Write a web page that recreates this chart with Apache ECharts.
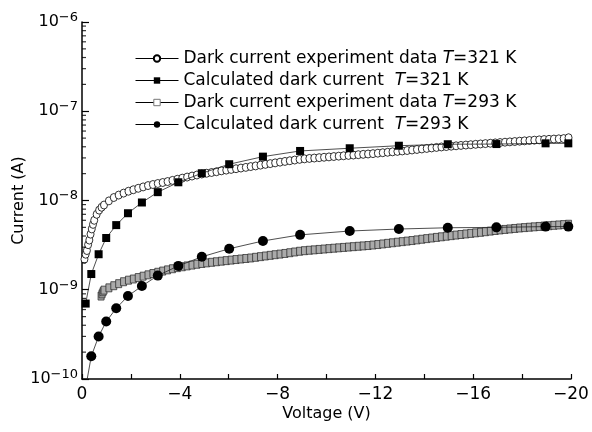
<!DOCTYPE html>
<html>
<head>
<meta charset="utf-8">
<script src="https://cdn.jsdelivr.net/npm/echarts@6/dist/echarts.min.js"></script>
<style>
  html, body { margin: 0; padding: 0; background: #fff; }
  #chart { width: 592px; height: 432px; }
</style>
</head>
<body>
<div id="chart"></div>
<script>
// voltages in V, currents in nA
const vSweep = [
  -1.1, -1.3, -1.5, -1.7, -1.9, -2.1, -2.3, -2.5, -2.7, -2.9,
  -3.1, -3.3, -3.5, -3.7, -3.9, -4.1, -4.3, -4.5, -4.7, -4.9,
  -5.1, -5.3, -5.5, -5.7, -5.9, -6.1, -6.3, -6.5, -6.7, -6.9,
  -7.1, -7.3, -7.5, -7.7, -7.9, -8.1, -8.3, -8.5, -8.7, -8.9,
  -9.1, -9.3, -9.5, -9.7, -9.9, -10.1, -10.3, -10.5, -10.7, -10.9,
  -11.1, -11.3, -11.5, -11.7, -11.9, -12.1, -12.3, -12.5, -12.7, -12.9,
  -13.1, -13.3, -13.5, -13.7, -13.9, -14.1, -14.3, -14.5, -14.7, -14.9,
  -15.1, -15.3, -15.5, -15.7, -15.9, -16.1, -16.3, -16.5, -16.7, -16.9,
  -17.1, -17.3, -17.5, -17.7, -17.9, -18.1, -18.3, -18.5, -18.7, -18.9,
  -19.1, -19.3, -19.5, -19.7, -19.9
];
const vStart321 = [-0.1, -0.15, -0.2, -0.25, -0.3, -0.35, -0.4, -0.45, -0.5, -0.6, -0.7, -0.8, -0.9];
const vStart293 = [-0.78, -0.82, -0.86, -0.9];

const exp321 = [
  2.2, 2.5, 2.75, 3.2, 3.6, 4.2, 4.8, 5.4, 6.0, 7.0, 7.8, 8.4, 8.9,
  9.9, 10.8, 11.5, 12.1, 12.7, 13.2, 13.7, 14.2, 14.7, 15.1,
  15.5, 15.9, 16.3, 16.8, 17.3, 17.8, 18.3, 18.8, 19.3, 19.8,
  20.2, 20.6, 21.0, 21.5, 21.9, 22.3, 22.7, 23.1, 23.5, 24.0,
  24.4, 24.9, 25.4, 25.9, 26.4, 26.9, 27.4, 27.9, 28.4, 28.9,
  29.3, 29.6, 29.9, 30.2, 30.5, 30.8, 31.1, 31.4, 31.7, 32.0,
  32.3, 32.6, 32.9, 33.2, 33.5, 33.9, 34.3, 34.7, 35.1, 35.5,
  35.9, 36.3, 36.8, 37.3, 37.8, 38.3, 38.8, 39.3, 39.8, 40.2,
  40.6, 41.0, 41.4, 41.8, 42.2, 42.6, 43.0, 43.4, 43.8, 44.2,
  44.6, 45.0, 45.4, 45.8, 46.2, 46.6, 47.0, 47.4, 47.8, 48.2,
  48.5, 48.8, 49.1, 49.4, 50.5
];
const exp293 = [
  0.85, 0.9, 0.95, 0.99,
  1.05, 1.11, 1.17, 1.23, 1.28, 1.32, 1.37, 1.42, 1.47, 1.52,
  1.57, 1.62, 1.67, 1.72, 1.77, 1.81, 1.85, 1.89, 1.93, 1.97,
  2.00, 2.03, 2.06, 2.09, 2.12, 2.15, 2.18, 2.21, 2.24, 2.27,
  2.31, 2.35, 2.39, 2.43, 2.47, 2.51, 2.55, 2.60, 2.65, 2.70,
  2.74, 2.77, 2.80, 2.83, 2.86, 2.89, 2.92, 2.95, 2.98, 3.01,
  3.04, 3.07, 3.10, 3.13, 3.17, 3.21, 3.26, 3.31, 3.36, 3.41,
  3.46, 3.51, 3.56, 3.62, 3.68, 3.74, 3.80, 3.86, 3.92, 3.98,
  4.04, 4.10, 4.16, 4.22, 4.28, 4.34, 4.40, 4.47, 4.54, 4.61,
  4.68, 4.74, 4.80, 4.86, 4.92, 4.97, 5.02, 5.07, 5.12, 5.17,
  5.22, 5.27, 5.32, 5.37, 5.42
];

const calcVolt = [-0.15, -0.38, -0.68, -0.99, -1.4, -1.88, -2.45, -3.1, -3.94, -4.9,
  -6.02, -7.4, -8.92, -10.95, -12.96, -14.96, -16.95, -18.96, -19.89];
const calc321 = [0.70, 1.50, 2.5, 3.8, 5.3, 7.2, 9.5, 12.4, 16.0, 20.2,
  25.5, 31.0, 35.9, 38.5, 41.1, 42.7, 42.9, 43.7, 43.7];
const calc293 = [0.08, 0.18, 0.30, 0.44, 0.62, 0.85, 1.10, 1.44, 1.85, 2.34,
  2.88, 3.52, 4.12, 4.55, 4.79, 4.95, 5.0, 5.1, 5.1];

const seriesNames = [
  'Dark current experiment data T=321 K',
  'Calculated dark current  T=321 K',
  'Dark current experiment data T=293 K',
  'Calculated dark current  T=293 K'
];
const xTicks = [0, -4, -8, -12, -16, -20];
const minorMantissa = [2, 3, 4, 5, 6, 7, 8, 9];
const decades = [-10, -9, -8, -7];

const FONT = 'DejaVu Sans, Liberation Sans, sans-serif';

function pairs(volts, nanoAmps) {
  return volts.map((v, i) => [v, nanoAmps[i] * 1e-9]);
}

const minorTicks = [];
decades.forEach(d => minorMantissa.forEach(m => minorTicks.push([0, m * Math.pow(10, d)])));

const chart = echarts.init(document.getElementById('chart'));
chart.setOption({
  backgroundColor: '#fff',
  animation: false,
  grid: { left: 82, right: 21, top: 22, bottom: 53, outerBoundsMode: 'none', containLabel: false },
  legend: {
    data: [
      { name: seriesNames[0] },
      { name: seriesNames[1] },
      { name: seriesNames[2], itemStyle: { color: '#fff', borderColor: '#777', borderWidth: 1 } },
      { name: seriesNames[3] }
    ],
    orient: 'vertical',
    left: 130,
    top: 45,
    itemWidth: 43,
    itemHeight: 8,
    itemGap: 5,
    lineStyle: { width: 1, color: '#000' },
    formatter: name => name.replace('T=', '{i|T}='),
    textStyle: {
      fontFamily: FONT, fontSize: 17, color: '#000',
      rich: { i: { fontFamily: FONT, fontSize: 17, fontStyle: 'italic', color: '#000' } }
    }
  },
  xAxis: {
    type: 'value',
    min: -20,
    max: 0,
    interval: 2,
    inverse: true,
    name: 'Voltage (V)',
    nameLocation: 'middle',
    nameGap: 27,
    nameMoveOverlap: false,
    nameTextStyle: { fontFamily: FONT, fontSize: 16, color: '#000' },
    axisLine: { lineStyle: { color: '#000', width: 1.5 } },
    axisTick: { inside: true, length: 5, lineStyle: { color: '#000', width: 1.2 } },
    axisLabel: {
      fontFamily: FONT, fontSize: 17, color: '#000', margin: 7,
      formatter: v => xTicks.indexOf(v) >= 0 ? (v === 0 ? '0' : '\u2212' + (-v)) : ''
    },
    splitLine: { show: false }
  },
  yAxis: {
    type: 'log',
    logBase: 10,
    min: 1e-10,
    max: 1e-6,
    splitNumber: 4,
    name: 'Current (A)',
    nameLocation: 'middle',
    nameGap: 55,
    nameMoveOverlap: false,
    nameTextStyle: { fontFamily: FONT, fontSize: 16, color: '#000' },
    axisLine: { show: true, lineStyle: { color: '#000', width: 1.5 } },
    axisTick: { inside: true, length: 7, lineStyle: { color: '#000', width: 1.2 } },
    axisLabel: {
      margin: 4,
      formatter: v => '{b|10}{s|\u2212' + (-Math.round(Math.log10(v))) + '}',
      rich: {
        b: { fontFamily: FONT, fontSize: 16, color: '#000' },
        s: { fontFamily: FONT, fontSize: 13, color: '#000', verticalAlign: 'bottom', padding: [0, 0, 9, 0] }
      }
    },
    splitLine: { show: false }
  },
  series: [
    {
      name: seriesNames[0],
      type: 'line',
      data: pairs(vStart321.concat(vSweep), exp321),
      symbol: 'circle',
      symbolSize: [7, 8],
      itemStyle: { color: '#fff', borderColor: '#000', borderWidth: 0.8 },
      lineStyle: { color: '#000', width: 1 },
      z: 3
    },
    {
      name: seriesNames[1],
      type: 'line',
      data: pairs(calcVolt, calc321),
      symbol: 'rect',
      symbolSize: 8,
      itemStyle: { color: '#000' },
      lineStyle: { color: '#222', width: 0.8 },
      z: 4
    },
    {
      name: seriesNames[2],
      type: 'line',
      data: pairs(vStart293.concat(vSweep), exp293),
      symbol: 'rect',
      symbolSize: [6, 8],
      itemStyle: { color: '#aaa', borderColor: '#222', borderWidth: 0.7 },
      lineStyle: { color: '#000', width: 1 },
      z: 3
    },
    {
      name: seriesNames[3],
      type: 'line',
      data: pairs(calcVolt, calc293),
      symbol: 'circle',
      symbolSize: 10,
      itemStyle: { color: '#000' },
      lineStyle: { color: '#222', width: 0.8 },
      z: 4
    },
    {
      // minor ticks of the log axis
      type: 'scatter',
      silent: true,
      clip: false,
      data: minorTicks,
      symbol: 'rect',
      symbolSize: [4, 1.2],
      symbolOffset: [2, 0],
      itemStyle: { color: '#000' },
      z: 5
    }
  ]
});
</script>
</body>
</html>
